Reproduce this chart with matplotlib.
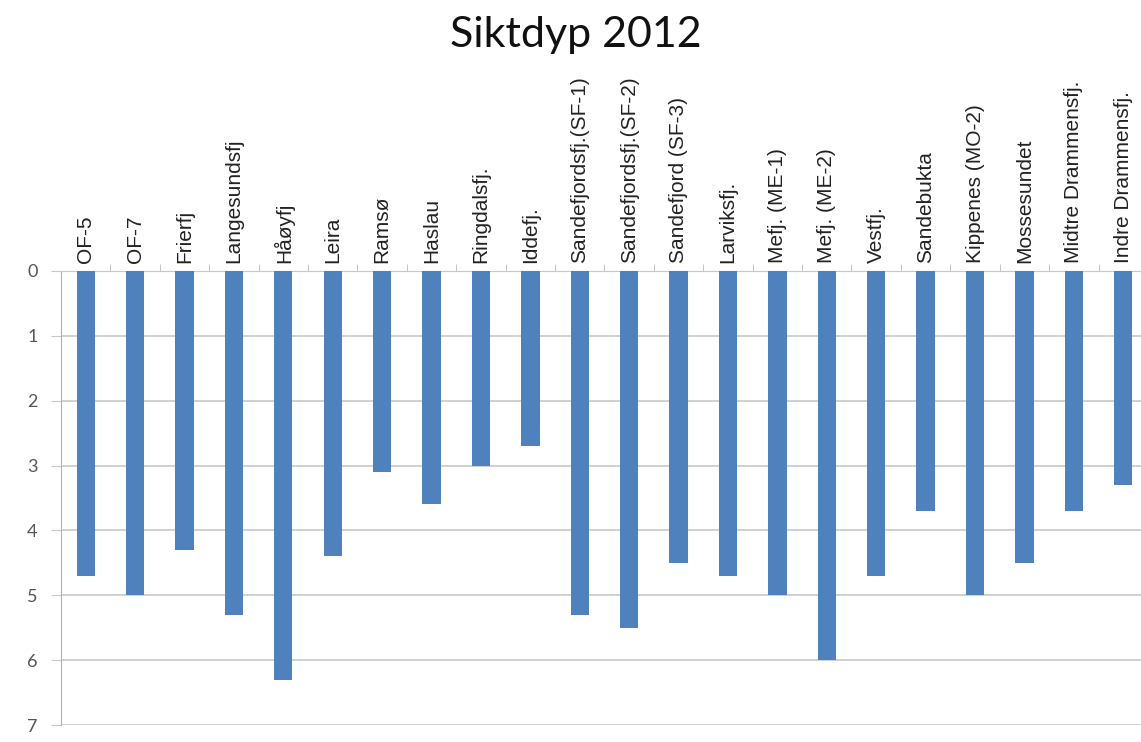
import matplotlib.pyplot as plt
import numpy as np

# Siktdyp (Secchi depth) per station, metres
stations = ['OF-5', 'OF-7', 'Frierfj', 'Langesundsfj', 'Håøyfj', 'Leira', 'Ramsø',
            'Haslau', 'Ringdalsfj.', 'Iddefj.', 'Sandefjordsfj.(SF-1)',
            'Sandefjordsfj.(SF-2)', 'Sandefjord (SF-3)', 'Larviksfj.', 'Mefj. (ME-1)',
            'Mefj. (ME-2)', 'Vestfj.', 'Sandebukta', 'Kippenes (MO-2)', 'Mossesundet',
            'Midtre Drammensfj.', 'Indre Drammensfj.']
depth = [4.7, 5.0, 4.3, 5.3, 6.3, 4.4, 3.1, 3.6, 3.0, 2.7, 5.3,
         5.5, 4.5, 4.7, 5.0, 6.0, 4.7, 3.7, 5.0, 4.5, 3.7, 3.3]
yticks = [0, 1, 2, 3, 4, 5, 6, 7]

fig = plt.figure(figsize=(11.41, 7.42), dpi=100)
ax = fig.add_axes([0.0535, 0.0229, 0.9465, 0.6119])

x = np.arange(len(stations))
ax.bar(x, depth, width=0.37, color='#4F81BD', zorder=3)

ax.set_ylim(7, 0)
ax.set_xlim(-0.5, 21.36)
ax.set_yticks(yticks)
ax.grid(axis='y', color='#c8c8c8', linewidth=1.2, zorder=0)

# station names along the top
ax.xaxis.tick_top()
ax.set_xticks(x)
ax.set_xticklabels(stations, rotation=90, fontsize=15, family='Liberation Sans',
                   color='#222222')
ax.tick_params(axis='x', which='major', length=0, pad=6)
ax.set_xticks(x[:-1] + 0.5, minor=True)
ax.tick_params(axis='x', which='minor', length=5, color='#bbbbbb', top=True, bottom=False)

ax.tick_params(axis='y', length=7, color='#c8c8c8', labelsize=13, labelcolor='#555555', pad=10)
for lab in ax.get_yticklabels():
    lab.set_family('Lato')

for side in ['right', 'bottom']:
    ax.spines[side].set_visible(False)
ax.spines['left'].set_color('#b0b0b0')
ax.spines['top'].set_color('#c8c8c8')

fig.suptitle('Siktdyp 2012', y=0.978, x=0.505, fontsize=31, family='Lato', color='#111111')

plt.savefig('out.png', dpi=100)
